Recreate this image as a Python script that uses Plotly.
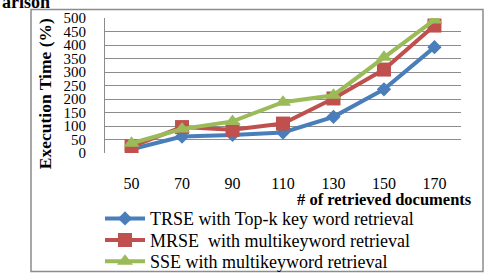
import plotly.graph_objects as go

categories = ["50", "70", "90", "110", "130", "150", "170"]
trse = [14, 61, 67, 76, 134, 236, 392]
mrse = [24, 96, 86, 109, 202, 309, 472]
sse = [36, 89, 117, 188, 214, 355, 493]
y_ticks = [0, 50, 100, 150, 200, 250, 300, 350, 400, 450, 500]

names = ["TRSE with Top-k key word retrieval",
         "MRSE  with multikeyword retrieval",
         "SSE with multikeyword retrieval"]
colors = ["#4A7EBB", "#C0504D", "#9BBB59"]
symbols = ["diamond", "square", "triangle-up"]
sizes = [11, 14, 14]
series = [trse, mrse, sse]
legend_ids = ["legend", "legend2", "legend3"]
legend_rows = [219, 240.5, 262]

SERIF = "Liberation Serif, Times New Roman, serif"

W, H = 489, 278
L, R, T, B = 105, 28, 17.5, 125
pw = W - L - R
ph = H - T - B

def px(x):
    return (x - L) / pw

def py(y):
    return (H - B - y) / ph

fig = go.Figure()
for s, n, c, sym, sz, lg in zip(series, names, colors, symbols, sizes, legend_ids):
    fig.add_trace(go.Scatter(
        x=categories, y=s, name=n, mode="lines+markers",
        line=dict(color=c, width=4),
        marker=dict(symbol=sym, size=sz, color=c),
        legend=lg,
    ))

legend_style = dict(xanchor="left", yanchor="middle",
                    font=dict(family=SERIF, size=18, color="black"),
                    itemwidth=40, bgcolor="rgba(0,0,0,0)")

fig.update_layout(
    width=W, height=H,
    margin=dict(l=L, r=R, t=T, b=B, autoexpand=False),
    paper_bgcolor="white", plot_bgcolor="white",
    font=dict(family=SERIF, color="black", size=15),
    showlegend=True,
    legend=dict(x=px(100), y=py(legend_rows[0]), **legend_style),
    legend2=dict(x=px(100), y=py(legend_rows[1]), **legend_style),
    legend3=dict(x=px(100), y=py(legend_rows[2]), **legend_style),
    xaxis=dict(type="category", showgrid=False, showline=False, zeroline=False,
               ticks="", ticklabelstandoff=19,
               tickfont=dict(family=SERIF, size=16, color="black")),
    yaxis=dict(range=[0, 500], tickvals=y_ticks, showgrid=True,
               gridcolor="#8C8C8C", gridwidth=1.2, zeroline=False,
               showline=True, linecolor="#8C8C8C", linewidth=1.2,
               ticks="", ticklabelstandoff=15,
               tickfont=dict(family=SERIF, size=15, color="black")),
)

fig.add_shape(type="rect", xref="paper", yref="paper",
              x0=px(31), x1=px(483), y0=py(272), y1=py(9),
              line=dict(color="#8C8C8C", width=1.5), fillcolor="rgba(0,0,0,0)",
              layer="below")

fig.add_annotation(text="<b>Execution Time (%)</b>", xref="paper", yref="paper",
                   x=px(45), y=py(94), textangle=-90, showarrow=False,
                   xanchor="center", yanchor="middle",
                   font=dict(family=SERIF, size=17.5, color="black"))
fig.add_annotation(text="<b># of retrieved documents</b>", xref="paper", yref="paper",
                   x=px(474), y=py(200), showarrow=False,
                   xanchor="right", yanchor="middle",
                   font=dict(family=SERIF, size=16.5, color="black"))
fig.add_annotation(text="<b>arison</b>", xref="paper", yref="paper",
                   x=px(0), y=py(1), showarrow=False,
                   xanchor="left", yanchor="middle",
                   font=dict(family=SERIF, size=18, color="black"))

fig.write_html("out.html")
